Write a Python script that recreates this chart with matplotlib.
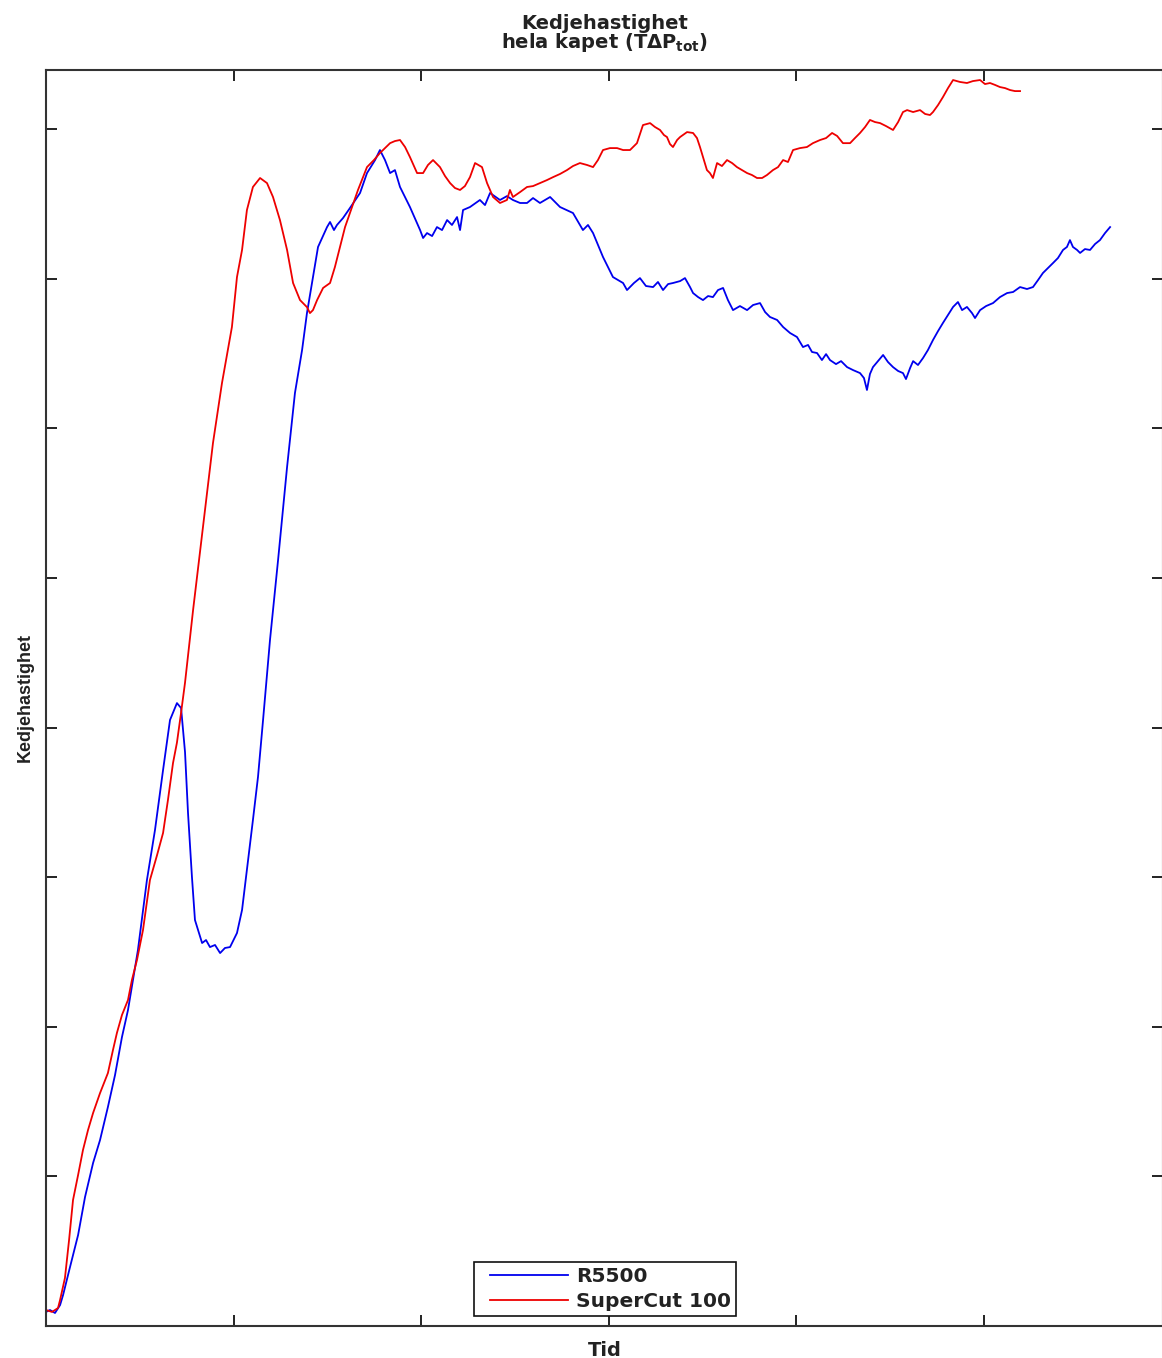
import matplotlib.pyplot as plt
import numpy as np
from matplotlib.legend_handler import HandlerLine2D

plt.rcParams['font.family'] = ['DejaVu Sans']

# R5500 chain speed over time
t_r5500 = [0.000, 0.021, 0.048, 0.075, 0.091, 0.128, 0.171, 0.208, 0.251, 0.288,
           0.330, 0.368, 0.405, 0.437, 0.490, 0.538, 0.581, 0.624, 0.661, 0.698,
           0.720, 0.741, 0.757, 0.778, 0.794, 0.832, 0.853, 0.874, 0.901, 0.928,
           0.954, 0.981, 1.018, 1.045, 1.071, 1.103, 1.130, 1.157, 1.194, 1.237,
           1.285, 1.327, 1.365, 1.391, 1.423, 1.450, 1.498, 1.514, 1.535, 1.551,
           1.583, 1.620, 1.674, 1.711, 1.754, 1.780, 1.807, 1.834, 1.860, 1.887,
           1.940, 1.994, 2.010, 2.031, 2.058, 2.084, 2.111, 2.138, 2.164, 2.191,
           2.207, 2.223, 2.260, 2.313, 2.340, 2.367, 2.420, 2.457, 2.489, 2.527,
           2.564, 2.596, 2.633, 2.687, 2.740, 2.809, 2.862, 2.889, 2.916, 2.969,
           3.022, 3.076, 3.097, 3.113, 3.134, 3.166, 3.198, 3.236, 3.262, 3.289,
           3.316, 3.342, 3.380, 3.406, 3.433, 3.449, 3.476, 3.502, 3.529, 3.555,
           3.582, 3.609, 3.635, 3.662, 3.699, 3.737, 3.769, 3.806, 3.833, 3.859,
           3.897, 3.929, 3.966, 4.003, 4.035, 4.062, 4.083, 4.110, 4.136, 4.158,
           4.179, 4.211, 4.238, 4.270, 4.302, 4.339, 4.360, 4.376, 4.392, 4.408,
           4.435, 4.462, 4.488, 4.515, 4.542, 4.568, 4.584, 4.606, 4.622, 4.648,
           4.675, 4.701, 4.728, 4.755, 4.781, 4.808, 4.835, 4.861, 4.883, 4.909,
           4.936, 4.952, 4.979, 5.011, 5.048, 5.085, 5.123, 5.155, 5.192, 5.229,
           5.261, 5.288, 5.314, 5.341, 5.368, 5.394, 5.421, 5.442, 5.458, 5.474,
           5.496, 5.512, 5.538, 5.565, 5.592, 5.618, 5.645, 5.672]
v_r5500 = [0.094, 0.107, 0.087, 0.140, 0.207, 0.394, 0.608, 0.862, 1.090, 1.243,
           1.464, 1.678, 1.932, 2.112, 2.513, 2.981, 3.316, 3.717, 4.051, 4.164,
           4.131, 3.837, 3.429, 3.001, 2.714, 2.560, 2.580, 2.533, 2.547, 2.493,
           2.527, 2.533, 2.627, 2.781, 3.048, 3.382, 3.670, 4.051, 4.586, 5.120,
           5.742, 6.237, 6.524, 6.771, 7.012, 7.213, 7.346, 7.380, 7.326, 7.360,
           7.406, 7.473, 7.574, 7.707, 7.794, 7.861, 7.794, 7.707, 7.727, 7.614,
           7.480, 7.326, 7.273, 7.306, 7.286, 7.346, 7.326, 7.393, 7.360, 7.413,
           7.326, 7.460, 7.480, 7.527, 7.493, 7.574, 7.527, 7.553, 7.527, 7.507,
           7.507, 7.540, 7.507, 7.547, 7.480, 7.440, 7.326, 7.360, 7.306, 7.146,
           7.012, 6.972, 6.925, 6.945, 6.972, 7.005, 6.952, 6.945, 6.979, 6.925,
           6.965, 6.972, 6.985, 7.005, 6.945, 6.905, 6.878, 6.858, 6.885, 6.878,
           6.925, 6.939, 6.858, 6.791, 6.818, 6.791, 6.825, 6.838, 6.778, 6.745,
           6.725, 6.678, 6.638, 6.611, 6.544, 6.558, 6.511, 6.504, 6.457, 6.497,
           6.457, 6.430, 6.450, 6.410, 6.390, 6.370, 6.337, 6.257, 6.364, 6.410,
           6.450, 6.491, 6.444, 6.410, 6.384, 6.370, 6.330, 6.404, 6.450, 6.424,
           6.471, 6.524, 6.591, 6.651, 6.705, 6.758, 6.812, 6.845, 6.791, 6.812,
           6.771, 6.738, 6.791, 6.818, 6.838, 6.878, 6.905, 6.912, 6.945, 6.932,
           6.945, 6.992, 7.039, 7.072, 7.106, 7.139, 7.193, 7.213, 7.259, 7.213,
           7.193, 7.173, 7.199, 7.193, 7.233, 7.259, 7.306, 7.346]

# SuperCut 100 chain speed over time
t_supercut = [0.000, 0.032, 0.064, 0.075, 0.101, 0.123, 0.144, 0.171, 0.197, 0.224,
              0.251, 0.288, 0.330, 0.357, 0.378, 0.405, 0.437, 0.458, 0.485, 0.517,
              0.554, 0.592, 0.624, 0.650, 0.677, 0.698, 0.720, 0.741, 0.784,
              0.837, 0.890, 0.938, 0.991, 1.018, 1.045, 1.071, 1.103, 1.141, 1.178,
              1.210, 1.247, 1.285, 1.317, 1.354, 1.391, 1.407, 1.423, 1.445, 1.477,
              1.514, 1.540, 1.567, 1.594, 1.631, 1.663, 1.711, 1.748, 1.780, 1.807,
              1.834, 1.860, 1.887, 1.914, 1.940, 1.978, 2.010, 2.036, 2.063, 2.100,
              2.127, 2.154, 2.180, 2.207, 2.233, 2.260, 2.287, 2.324, 2.351, 2.383,
              2.420, 2.457, 2.473, 2.489, 2.527, 2.564, 2.596, 2.633, 2.670, 2.703,
              2.740, 2.777, 2.809, 2.846, 2.884, 2.916, 2.942, 2.969, 3.006, 3.044,
              3.076, 3.113, 3.129, 3.150, 3.166, 3.182, 3.220, 3.246, 3.273, 3.294,
              3.310, 3.326, 3.342, 3.364, 3.380, 3.417, 3.449, 3.470, 3.486, 3.507,
              3.523, 3.539, 3.555, 3.577, 3.603, 3.630, 3.657, 3.683, 3.710, 3.737,
              3.763, 3.790, 3.817, 3.843, 3.875, 3.902, 3.929, 3.955, 3.982, 4.019,
              4.056, 4.088, 4.126, 4.158, 4.190, 4.217, 4.248, 4.286, 4.312, 4.339,
              4.366, 4.392, 4.419, 4.446, 4.478, 4.515, 4.542, 4.568, 4.590, 4.622,
              4.659, 4.686, 4.712, 4.728, 4.755, 4.781, 4.808, 4.835, 4.872, 4.909,
              4.941, 4.979, 5.005, 5.032, 5.059, 5.085, 5.112, 5.139, 5.165, 5.192]
v_supercut = [0.107, 0.094, 0.120, 0.174, 0.321, 0.575, 0.842, 1.009, 1.176, 1.310,
              1.424, 1.557, 1.691, 1.845, 1.959, 2.079, 2.179, 2.313, 2.447, 2.647,
              2.981, 3.148, 3.296, 3.516, 3.763, 3.900, 4.100, 4.300, 4.786,
              5.341, 5.902, 6.303, 6.678, 7.012, 7.193, 7.460, 7.614, 7.674, 7.640,
              7.547, 7.393, 7.193, 6.972, 6.858, 6.811, 6.771, 6.791, 6.858, 6.939,
              6.972, 7.079, 7.213, 7.346, 7.480, 7.594, 7.747, 7.794, 7.841, 7.874,
              7.907, 7.921, 7.928, 7.881, 7.814, 7.707, 7.707, 7.761, 7.794, 7.747,
              7.687, 7.640, 7.607, 7.594, 7.620, 7.680, 7.774, 7.747, 7.640, 7.547,
              7.507, 7.527, 7.594, 7.547, 7.580, 7.614, 7.620, 7.640, 7.660, 7.680,
              7.701, 7.727, 7.754, 7.774, 7.761, 7.747, 7.794, 7.861, 7.874, 7.874,
              7.861, 7.861, 7.881, 7.907, 7.968, 8.028, 8.041, 8.015, 7.995, 7.961,
              7.948, 7.901, 7.881, 7.928, 7.948, 7.981, 7.975, 7.941, 7.881, 7.794,
              7.727, 7.707, 7.674, 7.774, 7.754, 7.794, 7.774, 7.747, 7.727, 7.707,
              7.694, 7.674, 7.674, 7.694, 7.727, 7.747, 7.794, 7.781, 7.861, 7.874,
              7.881, 7.907, 7.928, 7.941, 7.975, 7.955, 7.907, 7.907, 7.941, 7.975,
              8.015, 8.062, 8.048, 8.041, 8.021, 7.995, 8.048, 8.115, 8.128, 8.115,
              8.128, 8.102, 8.095, 8.115, 8.162, 8.215, 8.275, 8.329, 8.316, 8.309,
              8.322, 8.329, 8.302, 8.309, 8.296, 8.282, 8.275, 8.262, 8.255, 8.255]

series_names = ['R5500', 'SuperCut 100']
x_ticks = [1, 2, 3, 4, 5]
y_ticks = [1, 2, 3, 4, 5, 6, 7, 8]

W, H = 1162, 1358
fig = plt.figure(figsize=(W / 100, H / 100), dpi=100)
ax = fig.add_axes([46 / W, 32 / H, 1117 / W, 1256 / H])

ax.plot(t_r5500, v_r5500, color='#0000ee', lw=1.3, label=series_names[0])
ax.plot(t_supercut, v_supercut, color='#ee0000', lw=1.3, label=series_names[1])

ax.set_xlim(0, 5.954)
ax.set_ylim(0, 8.396)
ax.set_xticks(x_ticks)
ax.set_yticks(y_ticks)
ax.set_xticklabels([])
ax.set_yticklabels([])
ax.tick_params(direction='in', length=8, width=1.4, colors='#222222',
               top=True, right=True)
for sp in ax.spines.values():
    sp.set_linewidth(1.5)
    sp.set_color('#333333')

ax.set_title('Kedjehastighet\nhela kapet (T\u0394P$_{\\mathbf{tot}}$)',
             fontsize=14, fontweight='bold', color='#222222',
             linespacing=0.88, pad=16)
ax.set_ylabel('Kedjehastighet', fontsize=13, fontweight='bold',
              family='Liberation Sans', color='#222222', labelpad=5)
ax.set_xlabel('Tid', fontsize=14, fontweight='bold', color='#222222',
              labelpad=7)

# inset the legend lines from the frame edge
inset = HandlerLine2D(xpad=0.55)
leg = ax.legend(loc='lower left', bbox_to_anchor=(474 / W, 42 / H),
                bbox_transform=fig.transFigure,
                handler_map={ln: inset for ln in ax.get_lines()},
                handlelength=4.42, handletextpad=0.4, labelspacing=0.28,
                borderpad=0.25, borderaxespad=0, fancybox=False,
                framealpha=1, prop={'weight': 'bold', 'size': 14.5})
leg.get_frame().set_edgecolor('#111111')
leg.get_frame().set_linewidth(1.2)
for txt in leg.get_texts():
    txt.set_color('#222222')

fig.savefig('out.png', dpi=100)
